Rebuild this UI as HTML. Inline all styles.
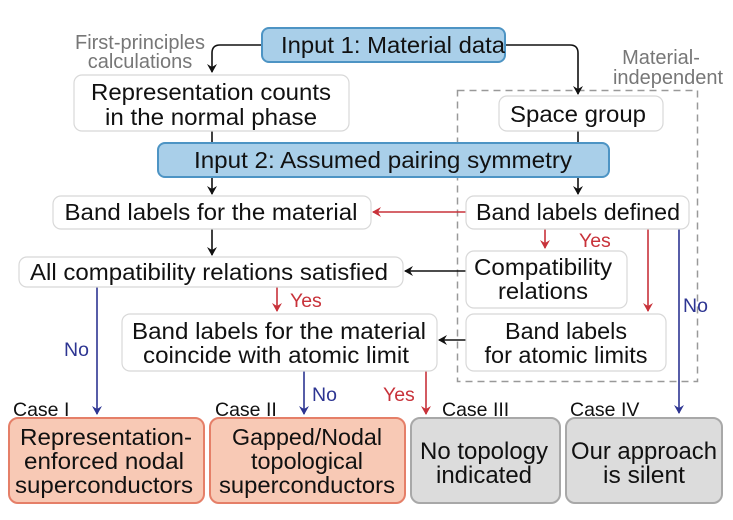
<!DOCTYPE html>
<html><head><meta charset="utf-8"><style>
html,body{margin:0;padding:0;background:#fff;}
svg{display:block;font-family:"Liberation Sans",Arial,sans-serif;}
</style></head><body>
<svg width="733" height="520" viewBox="0 0 733 520" xmlns="http://www.w3.org/2000/svg">
<defs>
<marker id="ak" markerWidth="10" markerHeight="10" refX="8" refY="5" orient="auto" markerUnits="userSpaceOnUse"><path d="M0,0 L9,5 L0,10 L3,5 z" fill="#111"/></marker>
<marker id="ar" markerWidth="10" markerHeight="10" refX="8" refY="5" orient="auto" markerUnits="userSpaceOnUse"><path d="M0,0 L9,5 L0,10 L3,5 z" fill="#c8323a"/></marker>
<marker id="ab" markerWidth="10" markerHeight="10" refX="8" refY="5" orient="auto" markerUnits="userSpaceOnUse"><path d="M0,0 L9,5 L0,10 L3,5 z" fill="#2d3592"/></marker>
</defs>
<rect x="457.5" y="90.5" width="240" height="291" fill="none" stroke="#999" stroke-width="1.5" stroke-dasharray="7,5"/>
<g font-size="20" fill="#777" text-anchor="middle" textLength="0">
<text x="140" y="49">First-principles</text>
<text x="140" y="68">calculations</text>
<text x="661" y="64">Material-</text>
<text x="668" y="84">independent</text>
</g>
<g fill="none" stroke-width="1.6">
<path d="M262,45 H220 Q212,45 212,53 V72" stroke="#111" marker-end="url(#ak)"/>
<path d="M505,45 H570 Q578,45 578,53 V94" stroke="#111" marker-end="url(#ak)"/>
<path d="M212,131 V143" stroke="#111"/>
<path d="M212,177 V194" stroke="#111" marker-end="url(#ak)"/>
<path d="M578,131 V143" stroke="#111"/>
<path d="M578,177 V194" stroke="#111" marker-end="url(#ak)"/>
<path d="M466,212 H373" stroke="#c8323a" marker-end="url(#ar)"/>
<path d="M212,229 V255" stroke="#111" marker-end="url(#ak)"/>
<path d="M466,271 H405" stroke="#111" marker-end="url(#ak)"/>
<path d="M545,229 V248" stroke="#c8323a" marker-end="url(#ar)"/>
<path d="M648,229 V311" stroke="#c8323a" marker-end="url(#ar)"/>
<path d="M679,229 V413" stroke="#2d3592" marker-end="url(#ab)"/>
<path d="M277,287 V311" stroke="#c8323a" marker-end="url(#ar)"/>
<path d="M97,287 V414" stroke="#2d3592" marker-end="url(#ab)"/>
<path d="M466,340 H439" stroke="#111" marker-end="url(#ak)"/>
<path d="M304,371 V414" stroke="#2d3592" marker-end="url(#ab)"/>
<path d="M426,371 V414" stroke="#c8323a" marker-end="url(#ar)"/>
</g>
<g font-size="19.5">
<text x="579" y="247" fill="#c8323a">Yes</text>
<text x="290" y="307" fill="#c8323a">Yes</text>
<text x="383" y="401" fill="#c8323a">Yes</text>
<text x="683" y="312" fill="#2d3592">No</text>
<text x="64" y="356" fill="#2d3592">No</text>
<text x="312" y="401" fill="#2d3592">No</text>
<text x="13" y="416" fill="#111">Case I</text>
<text x="215" y="416" fill="#111">Case II</text>
<text x="442" y="416" fill="#111">Case III</text>
<text x="570" y="416" fill="#111">Case IV</text>
</g>
<g stroke-width="1.2">
<rect x="262" y="28" width="243" height="34" rx="7" fill="#a9cfe9" stroke="#4d94c4" stroke-width="2"/>
<rect x="158" y="143" width="451" height="34" rx="7" fill="#a9cfe9" stroke="#4d94c4" stroke-width="2"/>
<rect x="74" y="75" width="275" height="56" rx="8" fill="#fff" stroke="#d8d8d8"/>
<rect x="499" y="96" width="164" height="35" rx="8" fill="#fff" stroke="#d8d8d8"/>
<rect x="53" y="196" width="318" height="33" rx="8" fill="#fff" stroke="#d8d8d8"/>
<rect x="466" y="196" width="223" height="33" rx="8" fill="#fff" stroke="#d8d8d8"/>
<rect x="19" y="257" width="384" height="30" rx="8" fill="#fff" stroke="#d8d8d8"/>
<rect x="466" y="251" width="161" height="57" rx="8" fill="#fff" stroke="#d8d8d8"/>
<rect x="122" y="314" width="315" height="57" rx="8" fill="#fff" stroke="#d8d8d8"/>
<rect x="466" y="314" width="200" height="57" rx="8" fill="#fff" stroke="#d8d8d8"/>
<rect x="9" y="418" width="195" height="85" rx="9" fill="#f8c9b5" stroke="#e57f68" stroke-width="2"/>
<rect x="210" y="418" width="195" height="85" rx="9" fill="#f8c9b5" stroke="#e57f68" stroke-width="2"/>
<rect x="411" y="418" width="149" height="85" rx="9" fill="#dcdcdc" stroke="#a8a8a8" stroke-width="2"/>
<rect x="566" y="418" width="156" height="85" rx="9" fill="#dcdcdc" stroke="#a8a8a8" stroke-width="2"/>
</g>
<g font-size="23" fill="#111" text-anchor="middle">
<text x="393" y="53" textLength="224" lengthAdjust="spacingAndGlyphs">Input 1: Material data</text>
<text x="211" y="100" textLength="240" lengthAdjust="spacingAndGlyphs">Representation counts</text>
<text x="211" y="125" textLength="212" lengthAdjust="spacingAndGlyphs">in the normal phase</text>
<text x="578" y="122" textLength="136" lengthAdjust="spacingAndGlyphs">Space group</text>
<text x="383" y="168" textLength="378" lengthAdjust="spacingAndGlyphs">Input 2: Assumed pairing symmetry</text>
<text x="211" y="220" textLength="293" lengthAdjust="spacingAndGlyphs">Band labels for the material</text>
<text x="578" y="220" textLength="204" lengthAdjust="spacingAndGlyphs">Band labels defined</text>
<text x="209" y="280" textLength="358" lengthAdjust="spacingAndGlyphs">All compatibility relations satisfied</text>
<text x="543" y="275" textLength="138" lengthAdjust="spacingAndGlyphs">Compatibility</text>
<text x="543" y="299" textLength="90" lengthAdjust="spacingAndGlyphs">relations</text>
<text x="279" y="339" textLength="294" lengthAdjust="spacingAndGlyphs">Band labels for the material</text>
<text x="276" y="363" textLength="266" lengthAdjust="spacingAndGlyphs">coincide with atomic limit</text>
<text x="566" y="339" textLength="122" lengthAdjust="spacingAndGlyphs">Band labels</text>
<text x="566" y="363" textLength="163" lengthAdjust="spacingAndGlyphs">for atomic limits</text>
<text x="106" y="445" textLength="172" lengthAdjust="spacingAndGlyphs">Representation-</text>
<text x="104" y="469" textLength="160" lengthAdjust="spacingAndGlyphs">enforced nodal</text>
<text x="104" y="493" textLength="178" lengthAdjust="spacingAndGlyphs">superconductors</text>
<text x="307" y="445" textLength="150" lengthAdjust="spacingAndGlyphs">Gapped/Nodal</text>
<text x="307" y="469" textLength="112" lengthAdjust="spacingAndGlyphs">topological</text>
<text x="307" y="493" textLength="176" lengthAdjust="spacingAndGlyphs">superconductors</text>
<text x="484" y="459" font-size="24" textLength="128" lengthAdjust="spacingAndGlyphs">No topology</text>
<text x="484" y="483" font-size="24" textLength="96" lengthAdjust="spacingAndGlyphs">indicated</text>
<text x="644" y="459" font-size="24" textLength="146" lengthAdjust="spacingAndGlyphs">Our approach</text>
<text x="644" y="483" font-size="24" textLength="82" lengthAdjust="spacingAndGlyphs">is silent</text>
</g>
</svg>
</body></html>
